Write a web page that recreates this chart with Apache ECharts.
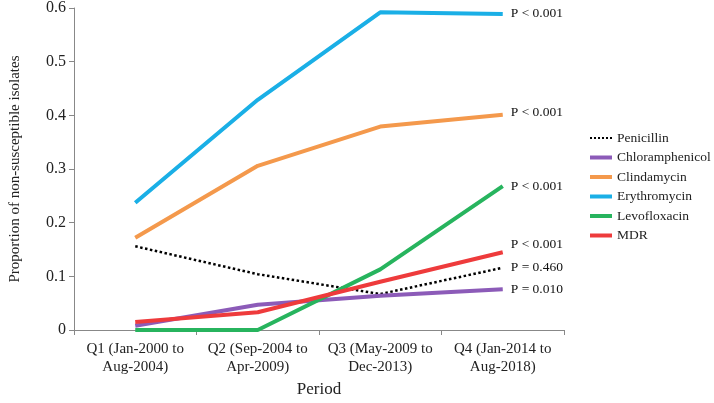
<!DOCTYPE html>
<html><head><meta charset="utf-8">
<script src="https://cdn.jsdelivr.net/npm/echarts@6/dist/echarts.min.js"></script>
<style>html,body{margin:0;padding:0;background:#fff}#c{width:714px;height:403px}</style>
</head><body><div id="c"></div>
<script>
const categories = ['Q1 (Jan-2000 to\nAug-2004)', 'Q2 (Sep-2004 to\nApr-2009)', 'Q3 (May-2009 to\nDec-2013)', 'Q4 (Jan-2014 to\nAug-2018)'];
const penicillin = [0.156, 0.104, 0.067, 0.116];
const chloramphenicol = [0.008, 0.047, 0.064, 0.076];
const clindamycin = [0.172, 0.306, 0.379, 0.401];
const erythromycin = [0.237, 0.429, 0.592, 0.589];
const levofloxacin = [0.0, 0.0, 0.113, 0.268];
const mdr = [0.015, 0.033, 0.09, 0.145];
const pValues = ['P = 0.460', 'P = 0.010', 'P < 0.001', 'P < 0.001', 'P < 0.001', 'P < 0.001'];
const yTicks = [0, 0.1, 0.2, 0.3, 0.4, 0.5, 0.6];

const FONT = '"Liberation Serif", "Times New Roman", serif';
function mk(name, data, color, p, extra, offY) {
  return Object.assign({
    name, type: 'line', data, symbol: 'none',
    lineStyle: { color, width: 4 }, itemStyle: { color },
    endLabel: { show: true, formatter: p, fontFamily: FONT, fontSize: 13.5, color: '#111', distance: 8, offset: [0, offY || 0] },
    z: 2
  }, extra || {});
}
const dotted = 'path://M0,0h2v2h-2z M4,0h2v2h-2z M8,0h2v2h-2z M12,0h2v2h-2z M16,0h2v2h-2z M20,0h2v2h-2z';
const chart = echarts.init(document.getElementById('c'));
chart.setOption({
  animation: false,
  textStyle: { fontFamily: FONT },
  grid: { left: 72, right: 150, top: 8, bottom: 73, containLabel: false },
  legend: {
    orient: 'vertical', left: 590, top: 131, itemWidth: 22, itemHeight: 4, itemGap: 5.5, padding: 0,
    symbolKeepAspect: true,
    textStyle: { fontFamily: FONT, fontSize: 13.5, color: '#222' },
    data: [
      { name: 'Penicillin', icon: dotted },
      { name: 'Chloramphenicol', icon: 'rect' },
      { name: 'Clindamycin', icon: 'rect' },
      { name: 'Erythromycin', icon: 'rect' },
      { name: 'Levofloxacin', icon: 'rect' },
      { name: 'MDR', icon: 'rect' }
    ]
  },
  xAxis: {
    type: 'category', data: categories, boundaryGap: true,
    name: 'Period', nameLocation: 'middle', nameGap: 51,
    nameTextStyle: { fontFamily: FONT, fontSize: 17, color: '#222' },
    axisLine: { lineStyle: { color: '#888', width: 1 } },
    axisTick: { show: true, length: 5, lineStyle: { color: '#888' } },
    axisLabel: { fontFamily: FONT, fontSize: 15, color: '#222', lineHeight: 18, margin: 10, interval: 0 }
  },
  yAxis: {
    type: 'value', min: 0, max: 0.6, interval: 0.1,
    name: 'Proportion of non-susceptible isolates', nameLocation: 'middle', nameGap: 51,
    nameTextStyle: { fontFamily: FONT, fontSize: 15, color: '#222' },
    axisLine: { show: true, lineStyle: { color: '#888', width: 1 } },
    axisTick: { show: true, length: 5, lineStyle: { color: '#888' } },
    splitLine: { show: false },
    axisLabel: { fontFamily: FONT, fontSize: 16, color: '#222', margin: 8,
      formatter: v => { const i = yTicks.findIndex(t => Math.abs(t - v) < 1e-9); return i >= 0 ? String(yTicks[i]) : ''; } }
  },
  series: [
    mk('Penicillin', penicillin, '#000', pValues[0], { lineStyle: { color: '#000', width: 2.5, type: [2.5, 2.5] } }, 0),
    mk('Chloramphenicol', chloramphenicol, '#8C5BB8', pValues[1], null, 0),
    mk('Clindamycin', clindamycin, '#F4994C', pValues[2], null, -2),
    mk('Erythromycin', erythromycin, '#1AAFE6', pValues[3], null, 0),
    mk('Levofloxacin', levofloxacin, '#27B45E', pValues[4], null, 0),
    mk('MDR', mdr, '#EE3B3C', pValues[5], null, -8)
  ]
});
</script></body></html>
